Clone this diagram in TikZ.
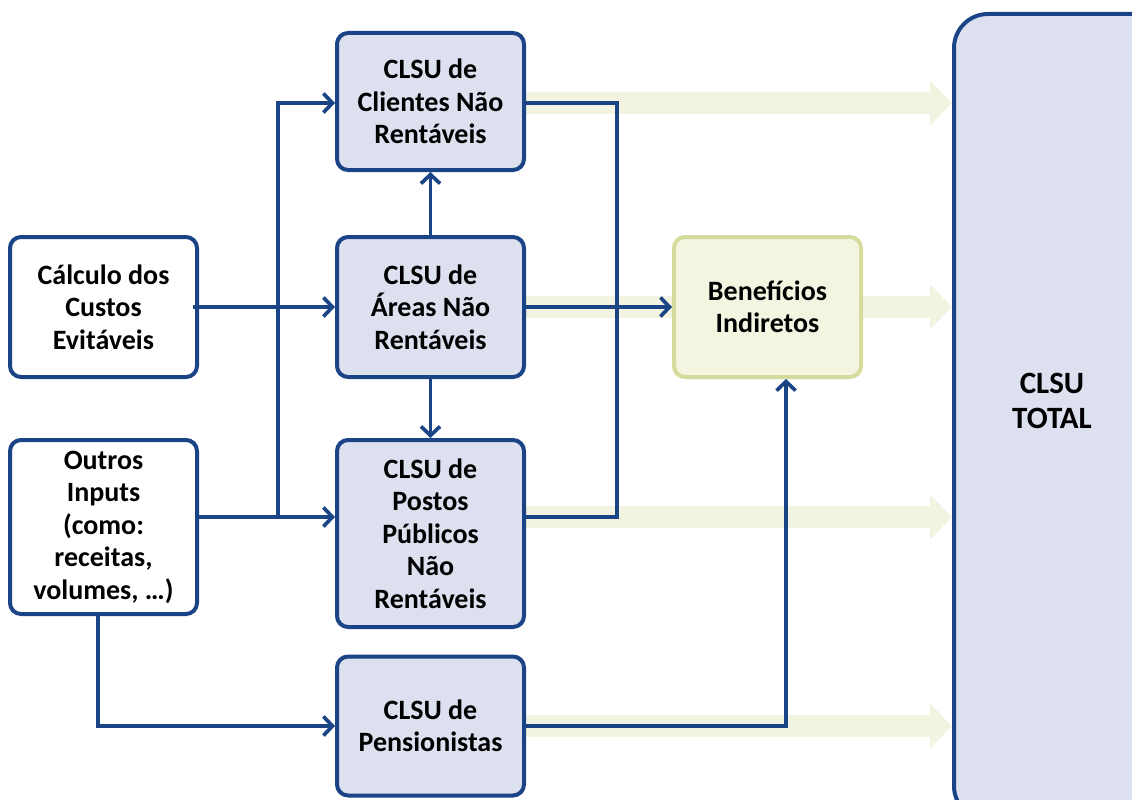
\documentclass[tikz,border=0pt]{standalone}
\usepackage{fontspec}
\setmainfont{Carlito}
\usetikzlibrary{arrows.meta,backgrounds}
\definecolor{dblue}{HTML}{1B4486}
\definecolor{lav}{HTML}{DCE0EF}
\definecolor{pale}{HTML}{F2F4E1}
\definecolor{olive}{HTML}{D4DB9C}
\definecolor{benfill}{HTML}{F3F5E1}
\tikzset{
  box/.style={draw=dblue, line width=4pt, rounded corners=11pt, fill=lav,
    minimum width=187pt, align=center, inner sep=0pt,
    font=\fontsize{28}{32.5}\selectfont\bfseries},
  inbox/.style={box, fill=white},
  benbox/.style={box, draw=olive, fill=benfill},
  conn/.style={draw=dblue, line width=3.7pt},
  arr/.style={conn, -{Straight Barb[length=9pt,width=19pt,line width=3.7pt]}},
  bigarrow/.style={draw=pale, line width=22pt, -{Triangle[length=22pt,width=44pt]}},
}
\begin{document}
\begin{tikzpicture}[x=1pt,y=-1pt]
\useasboundingbox (0,0) rectangle (1132,800);
\clip (0,0) rectangle (1132,800);
% nodes
\node[box, minimum height=137pt] (cli) at (430.5,101.5) {CLSU de\\Clientes Não\\Rentáveis};
\node[box, minimum height=140pt] (are) at (430.5,307) {CLSU de\\Áreas Não\\Rentáveis};
\node[box, minimum height=187pt] (pos) at (430.5,533.5) {CLSU de\\Postos\\Públicos\\Não\\Rentáveis};
\node[box, minimum height=139pt] (pen) at (430.5,726) {CLSU de\\Pensionistas};
\node[inbox, minimum height=140pt] (cal) at (103.5,307) {Cálculo dos\\Custos\\Evitáveis};
\node[inbox, minimum height=174pt] (out) at (103.5,527) {Outros\\Inputs\\(como:\\receitas,\\volumes, …)};
\node[benbox, minimum height=140pt] (ben) at (767.5,307) {Benefícios\\Indiretos};
\node[box, minimum width=226pt, minimum height=806pt, rounded corners=34pt] (tot) at (1067,417) {};
\node[font=\fontsize{31}{35}\selectfont\bfseries, align=center] (tottxt) at (1052,401) {CLSU\\TOTAL};
% coordinates
\coordinate (j1) at (278,517);
\coordinate (r2) at (617,517);
\coordinate (c98) at (98,726);
% pale arrows on background
\begin{scope}[on background layer]
\draw[bigarrow] (cli.east |- 0,103) -- (tot.west |- 0,103);
\draw[bigarrow] (are.east) -- (are.east -| tot.west);
\draw[bigarrow] (pos.east |- j1) -- (tot.west |- j1);
\draw[bigarrow] (pen.east) -- (pen.east -| tot.west);
\end{scope}
% connectors
\draw[arr] ([xshift=-6pt]cal.east) -- (are.west);
\draw[arr] (j1) |- (cli.west |- 0,103);
\draw[arr] (out.east |- j1) -- (pos.west |- j1);
\draw[arr] (are.north) -- (cli.south);
\draw[arr] (are.south) -- (pos.north);
\draw[conn] (cli.east |- 0,103) -| (r2) -- (pos.east |- r2);
\draw[arr] (are.east) -- (ben.west);
\draw[arr] (out.south -| c98) |- (pen.west);
\draw[arr] (pen.east) -| ([xshift=18.5pt]ben.south);
\end{tikzpicture}
\end{document}
